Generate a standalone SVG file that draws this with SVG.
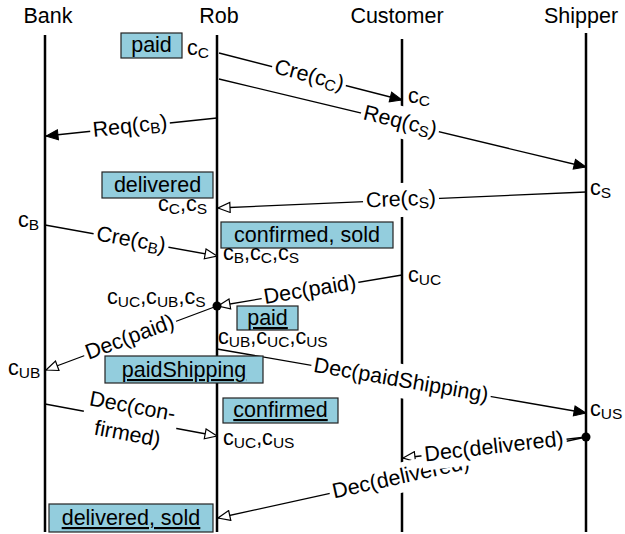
<svg xmlns="http://www.w3.org/2000/svg" width="625" height="534" viewBox="0 0 625 534">
<style>
text{font-family:"Liberation Sans",Arial,sans-serif;font-size:21.5px;fill:#000}
.s{font-size:15.5px}
.mid{text-anchor:middle}
.life{stroke:#000;stroke-width:2.5;fill:none}
.msg{stroke:#000;stroke-width:1.3;fill:none}
.f{marker-end:url(#fa)}
.o{marker-end:url(#oa)}
.lb{fill:#fff;stroke:none}
.box{fill:#93CDDD;stroke:#222;stroke-width:1.2}
.u{text-decoration:underline}
</style>
<defs>
<marker id="fa" markerUnits="userSpaceOnUse" markerWidth="14" markerHeight="12" refX="13" refY="6" orient="auto">
<path d="M1,1 L13,6 L1,11 z" fill="#000" stroke="#000" stroke-width="1"/>
</marker>
<marker id="oa" markerUnits="userSpaceOnUse" markerWidth="14" markerHeight="12" refX="13" refY="6" orient="auto">
<path d="M1,1 L13,6 L1,11 z" fill="#fff" stroke="#000" stroke-width="1.2"/>
</marker>
</defs>
<rect width="625" height="534" fill="#fff"/>

<g id="Bank">
<text class="mid" x="48" y="23">Bank</text>
<line class="life" x1="45" y1="35" x2="45" y2="532"/>
</g>
<g id="Rob">
<text class="mid" x="219" y="23">Rob</text>
<line class="life" x1="217" y1="35" x2="217" y2="532"/>
</g>
<g id="Customer">
<text class="mid" x="397" y="23">Customer</text>
<line class="life" x1="402" y1="39" x2="402" y2="532"/>
</g>
<g id="Shipper">
<text class="mid" x="581" y="23">Shipper</text>
<line class="life" x1="586" y1="33" x2="586" y2="532"/>
</g>

<g id="connectors">
<path class="msg f" d="M219,53 L402,100"/>
<path class="msg f" d="M219,79 L586,167"/>
<path class="msg f" d="M217,118 L46,136"/>
<path class="msg o" d="M586,192 L218,208"/>
<path class="msg o" d="M45,225 L217,256"/>
<path class="msg o" d="M402,275 L218,306"/>
<path class="msg o" d="M217,306 L46,370"/>
<path class="msg f" d="M217,349 L586,413"/>
<path class="msg o" d="M45,404 L217,436"/>
<path class="msg o" d="M586,437 L403,458"/>
<path class="msg o" d="M586,437 L218,518"/>
<circle cx="217" cy="306" r="4.5" fill="#000"/>
<circle cx="586" cy="437" r="4.5" fill="#000"/>

<g transform="translate(309,76) rotate(14.4)"><rect class="lb" x="-38" y="-15" width="76" height="30"/><text class="mid" y="6">Cre(c<tspan class="s" dy="3">C</tspan><tspan dy="-3">)</tspan></text></g>
<g transform="translate(400,122) rotate(13.5)"><rect class="lb" x="-40" y="-16" width="80" height="32"/><text class="mid" y="6">Req(c<tspan class="s" dy="3">S</tspan><tspan dy="-3">)</tspan></text></g>
<g transform="translate(130,127) rotate(-6)"><rect class="lb" x="-40" y="-15" width="80" height="30"/><text class="mid" y="6">Req(c<tspan class="s" dy="3">B</tspan><tspan dy="-3">)</tspan></text></g>
<g transform="translate(401,200) rotate(-2.5)"><rect class="lb" x="-38" y="-17" width="76" height="34"/><text class="mid" y="6">Cre(c<tspan class="s" dy="3">S</tspan><tspan dy="-3">)</tspan></text></g>
<g transform="translate(131,240.5) rotate(10.2)"><rect class="lb" x="-38" y="-15" width="76" height="30"/><text class="mid" y="6">Cre(c<tspan class="s" dy="3">B</tspan><tspan dy="-3">)</tspan></text></g>
<g transform="translate(310,290.5) rotate(-9.5)"><rect class="lb" x="-49" y="-15" width="98" height="30"/><text class="mid" y="6">Dec(paid)</text></g>
<g transform="translate(130,338) rotate(-20.4)"><rect class="lb" x="-49" y="-14" width="98" height="28"/><text class="mid" y="6">Dec(paid)</text></g>
<g transform="translate(401,381) rotate(9.8)"><rect class="lb" x="-91" y="-17" width="182" height="34"/><text class="mid" y="6">Dec(paidShipping)</text></g>
<g transform="translate(130,420) rotate(10.5)"><rect class="lb" x="-47" y="-29" width="94" height="58"/><text class="mid" y="-7">Dec(con-</text><text class="mid" y="21">firmed)</text></g>
<g transform="translate(401,477.6) rotate(-12.4)"><rect class="lb" x="-73" y="-15" width="146" height="30"/><text class="mid" y="6">Dec(delivered)</text></g>
<g transform="translate(494,447.5) rotate(-6.5)"><rect class="lb" x="-73" y="-15" width="146" height="30"/><text class="mid" y="6">Dec(delivered)</text></g>
</g>

<g id="state-paid-1">
<rect class="box" x="121" y="33" width="61" height="25"/>
<text class="mid" x="151.5" y="52">paid</text>
</g>
<g id="state-delivered">
<rect class="box" x="102" y="172" width="111" height="26"/>
<text class="mid" x="157.5" y="192">delivered</text>
</g>
<g id="state-confirmed-sold">
<rect class="box" x="221" y="222" width="172" height="26"/>
<text class="mid" x="307" y="242">confirmed, sold</text>
</g>
<g id="state-paid-2">
<rect class="box" x="237" y="306" width="61" height="24"/>
<text class="mid u" x="267.5" y="325">paid</text>
</g>
<g id="state-paidShipping">
<rect class="box" x="105" y="356" width="158" height="27"/>
<text class="mid u" x="184" y="377">paidShipping</text>
</g>
<g id="state-confirmed">
<rect class="box" x="223" y="398" width="115" height="25"/>
<text class="mid u" x="280.5" y="417">confirmed</text>
</g>
<g id="state-delivered-sold">
<rect class="box" x="49" y="504" width="164" height="28"/>
<text class="mid u" x="131" y="525">delivered, sold</text>
</g>

<g id="commitments">
<text x="187" y="55">c<tspan class="s" dy="3">C</tspan></text>
<text x="408" y="103">c<tspan class="s" dy="3">C</tspan></text>
<text x="590" y="195">c<tspan class="s" dy="3">S</tspan></text>
<text x="158" y="211">c<tspan class="s" dy="3">C</tspan><tspan dy="-3">,c</tspan><tspan class="s" dy="3">S</tspan></text>
<text x="18" y="227">c<tspan class="s" dy="3">B</tspan></text>
<text x="223" y="260">c<tspan class="s" dy="3">B</tspan><tspan dy="-3">,c</tspan><tspan class="s" dy="3">C</tspan><tspan dy="-3">,c</tspan><tspan class="s" dy="3">S</tspan></text>
<text x="408" y="282">c<tspan class="s" dy="3">UC</tspan></text>
<text x="107" y="304">c<tspan class="s" dy="3">UC</tspan><tspan dy="-3">,c</tspan><tspan class="s" dy="3">UB</tspan><tspan dy="-3">,c</tspan><tspan class="s" dy="3">S</tspan></text>
<text x="218" y="344">c<tspan class="s" dy="3">UB</tspan><tspan dy="-3">,c</tspan><tspan class="s" dy="3">UC</tspan><tspan dy="-3">,c</tspan><tspan class="s" dy="3">US</tspan></text>
<text x="8" y="375">c<tspan class="s" dy="3">UB</tspan></text>
<text x="590" y="416">c<tspan class="s" dy="3">US</tspan></text>
<text x="223" y="445">c<tspan class="s" dy="3">UC</tspan><tspan dy="-3">,c</tspan><tspan class="s" dy="3">US</tspan></text>
</g>
</svg>
